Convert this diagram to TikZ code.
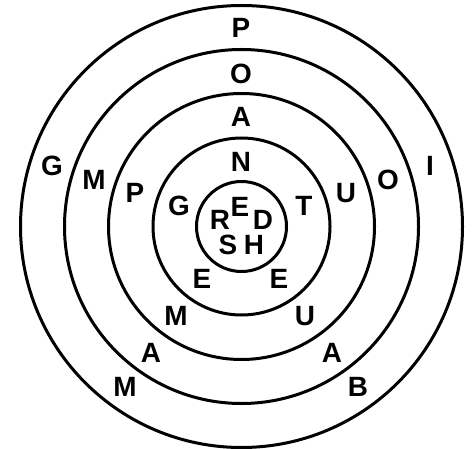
\documentclass[tikz,border=0pt]{standalone}
\usepackage{fontspec}
\setmainfont{Liberation Sans}
\newfontfamily\lblfont{Liberation Sans Bold}
\begin{document}
\begin{tikzpicture}[x=1bp,y=-1bp,
    ring/.style={draw, line width=3bp},
    lbl/.style={inner sep=0pt, font=\lblfont\fontsize{28}{28}\selectfont}]
        \useasboundingbox (0,0) rectangle (474,449);
        % Rings
        \coordinate (c) at (241.5,226.5);
        \draw[ring] (c) circle[radius=221];
        \draw[ring] (c) circle[radius=177];
        \draw[ring] (c) circle[radius=133];
        \draw[ring] (c) circle[radius=88.5];
        \draw[ring] (c) circle[radius=45];
        
        % Centre
        \node[lbl] (e0) at (240,207) {E};
        \node[lbl] (r0) at (220,220) {R};
        \node[lbl] (d0) at (263,220) {D};
        \node[lbl] (s0) at (228,245) {S};
        \node[lbl] (h0) at (254,245) {H};
        
        % Top
        \node[lbl] (p1) at (241,28) {P};
        \node[lbl] (o1) at (241,74) {O};
        \node[lbl] (a1) at (241,117) {A};
        \node[lbl] (n1) at (241,162) {N};
        
        % Left
        \node[lbl] (g1) at (52,166) {G};
        \node[lbl] (m1) at (94,180) {M};
        \node[lbl] (p2) at (135,193) {P};
        \node[lbl] (g2) at (179,206) {G};
        
        % Right
        \node[lbl] (t1) at (304,206) {T};
        \node[lbl] (u1) at (346,193) {U};
        \node[lbl] (o2) at (388,180) {O};
        \node[lbl] (i1) at (430,166) {I};
        
        % Bottom left
        \node[lbl] (e1) at (202,279) {E};
        \node[lbl] (m2) at (176,316) {M};
        \node[lbl] (a2) at (151,353) {A};
        \node[lbl] (m3) at (125,387) {M};
        
        % Bottom right
        \node[lbl] (e2) at (279,279) {E};
        \node[lbl] (u2) at (305,316) {U};
        \node[lbl] (a3) at (332,353) {A};
        \node[lbl] (b1) at (358,387) {B};
    \end{tikzpicture}
\end{document}
